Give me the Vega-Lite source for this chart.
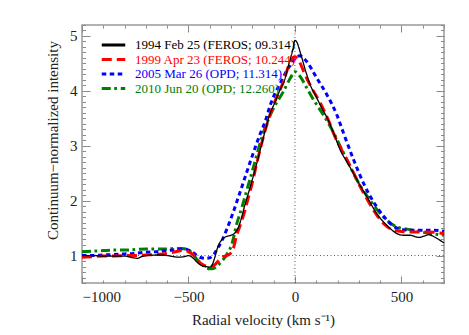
{
  "$schema": "https://vega.github.io/schema/vega-lite/v6.json",
  "width": 362,
  "height": 258,
  "autosize": {"type": "none"},
  "padding": {"left": 82, "top": 25, "right": 25, "bottom": 52},
  "background": "white",
  "config": {
    "view": {"stroke": "#999999", "strokeWidth": 1.5},
    "font": "'Liberation Serif', 'Times New Roman', serif",
    "axis": {"domain": false, "grid": false, "tickColor": "#8a8a8a", "tickWidth": 1, "labelFont": "'Liberation Serif', 'Times New Roman', serif", "labelFontSize": 15, "labelColor": "#222222", "labelOverlap": false, "labelBound": false, "titleFont": "'Liberation Serif', 'Times New Roman', serif", "titleFontSize": 15, "titleFontWeight": "normal", "titleColor": "#222222"},
    "legend": {"labelFont": "'Liberation Serif', 'Times New Roman', serif", "labelFontSize": 13, "labelLimit": 400, "symbolType": "M-2.35,0H2.35", "symbolStrokeWidth": 3, "symbolSize": 100, "rowPadding": 0.5, "labelOffset": 15, "padding": 0}
  },
  "datasets": {
    "spectra": [
      {"s": "2010 Jun 20 (OPD; 12.260)", "v": -1000, "i": 1.07},
      {"s": "2010 Jun 20 (OPD; 12.260)", "v": -950, "i": 1.08},
      {"s": "2010 Jun 20 (OPD; 12.260)", "v": -900, "i": 1.09},
      {"s": "2010 Jun 20 (OPD; 12.260)", "v": -850, "i": 1.10},
      {"s": "2010 Jun 20 (OPD; 12.260)", "v": -800, "i": 1.10},
      {"s": "2010 Jun 20 (OPD; 12.260)", "v": -750, "i": 1.11},
      {"s": "2010 Jun 20 (OPD; 12.260)", "v": -700, "i": 1.12},
      {"s": "2010 Jun 20 (OPD; 12.260)", "v": -650, "i": 1.12},
      {"s": "2010 Jun 20 (OPD; 12.260)", "v": -600, "i": 1.12},
      {"s": "2010 Jun 20 (OPD; 12.260)", "v": -560, "i": 1.13},
      {"s": "2010 Jun 20 (OPD; 12.260)", "v": -530, "i": 1.13},
      {"s": "2010 Jun 20 (OPD; 12.260)", "v": -500, "i": 1.10},
      {"s": "2010 Jun 20 (OPD; 12.260)", "v": -480, "i": 1.03},
      {"s": "2010 Jun 20 (OPD; 12.260)", "v": -460, "i": 0.93},
      {"s": "2010 Jun 20 (OPD; 12.260)", "v": -440, "i": 0.85},
      {"s": "2010 Jun 20 (OPD; 12.260)", "v": -420, "i": 0.79},
      {"s": "2010 Jun 20 (OPD; 12.260)", "v": -400, "i": 0.76},
      {"s": "2010 Jun 20 (OPD; 12.260)", "v": -380, "i": 0.77},
      {"s": "2010 Jun 20 (OPD; 12.260)", "v": -350, "i": 0.87},
      {"s": "2010 Jun 20 (OPD; 12.260)", "v": -320, "i": 1.02},
      {"s": "2010 Jun 20 (OPD; 12.260)", "v": -296, "i": 1.21},
      {"s": "2010 Jun 20 (OPD; 12.260)", "v": -273, "i": 1.58},
      {"s": "2010 Jun 20 (OPD; 12.260)", "v": -249, "i": 1.88},
      {"s": "2010 Jun 20 (OPD; 12.260)", "v": -226, "i": 2.19},
      {"s": "2010 Jun 20 (OPD; 12.260)", "v": -195, "i": 2.61},
      {"s": "2010 Jun 20 (OPD; 12.260)", "v": -155, "i": 3.16},
      {"s": "2010 Jun 20 (OPD; 12.260)", "v": -101, "i": 3.68},
      {"s": "2010 Jun 20 (OPD; 12.260)", "v": -54, "i": 3.99},
      {"s": "2010 Jun 20 (OPD; 12.260)", "v": -22, "i": 4.23},
      {"s": "2010 Jun 20 (OPD; 12.260)", "v": 0, "i": 4.35},
      {"s": "2010 Jun 20 (OPD; 12.260)", "v": 25, "i": 4.26},
      {"s": "2010 Jun 20 (OPD; 12.260)", "v": 56, "i": 4.05},
      {"s": "2010 Jun 20 (OPD; 12.260)", "v": 87, "i": 3.84},
      {"s": "2010 Jun 20 (OPD; 12.260)", "v": 134, "i": 3.56},
      {"s": "2010 Jun 20 (OPD; 12.260)", "v": 166, "i": 3.35},
      {"s": "2010 Jun 20 (OPD; 12.260)", "v": 229, "i": 2.86},
      {"s": "2010 Jun 20 (OPD; 12.260)", "v": 292, "i": 2.37},
      {"s": "2010 Jun 20 (OPD; 12.260)", "v": 354, "i": 2.00},
      {"s": "2010 Jun 20 (OPD; 12.260)", "v": 417, "i": 1.70},
      {"s": "2010 Jun 20 (OPD; 12.260)", "v": 479, "i": 1.52},
      {"s": "2010 Jun 20 (OPD; 12.260)", "v": 542, "i": 1.47},
      {"s": "2010 Jun 20 (OPD; 12.260)", "v": 620, "i": 1.41},
      {"s": "2010 Jun 20 (OPD; 12.260)", "v": 700, "i": 1.37},

      {"s": "2005 Mar 26 (OPD; 11.314)", "v": -1000, "i": 1.00},
      {"s": "2005 Mar 26 (OPD; 11.314)", "v": -950, "i": 1.00},
      {"s": "2005 Mar 26 (OPD; 11.314)", "v": -900, "i": 1.01},
      {"s": "2005 Mar 26 (OPD; 11.314)", "v": -850, "i": 1.02},
      {"s": "2005 Mar 26 (OPD; 11.314)", "v": -800, "i": 1.03},
      {"s": "2005 Mar 26 (OPD; 11.314)", "v": -750, "i": 1.04},
      {"s": "2005 Mar 26 (OPD; 11.314)", "v": -700, "i": 1.06},
      {"s": "2005 Mar 26 (OPD; 11.314)", "v": -650, "i": 1.07},
      {"s": "2005 Mar 26 (OPD; 11.314)", "v": -600, "i": 1.09},
      {"s": "2005 Mar 26 (OPD; 11.314)", "v": -550, "i": 1.11},
      {"s": "2005 Mar 26 (OPD; 11.314)", "v": -520, "i": 1.12},
      {"s": "2005 Mar 26 (OPD; 11.314)", "v": -500, "i": 1.10},
      {"s": "2005 Mar 26 (OPD; 11.314)", "v": -480, "i": 1.06},
      {"s": "2005 Mar 26 (OPD; 11.314)", "v": -460, "i": 1.00},
      {"s": "2005 Mar 26 (OPD; 11.314)", "v": -440, "i": 0.96},
      {"s": "2005 Mar 26 (OPD; 11.314)", "v": -420, "i": 0.95},
      {"s": "2005 Mar 26 (OPD; 11.314)", "v": -400, "i": 0.96},
      {"s": "2005 Mar 26 (OPD; 11.314)", "v": -385, "i": 1.00},
      {"s": "2005 Mar 26 (OPD; 11.314)", "v": -365, "i": 1.12},
      {"s": "2005 Mar 26 (OPD; 11.314)", "v": -343, "i": 1.27},
      {"s": "2005 Mar 26 (OPD; 11.314)", "v": -320, "i": 1.48},
      {"s": "2005 Mar 26 (OPD; 11.314)", "v": -304, "i": 1.64},
      {"s": "2005 Mar 26 (OPD; 11.314)", "v": -265, "i": 2.07},
      {"s": "2005 Mar 26 (OPD; 11.314)", "v": -234, "i": 2.43},
      {"s": "2005 Mar 26 (OPD; 11.314)", "v": -200, "i": 2.82},
      {"s": "2005 Mar 26 (OPD; 11.314)", "v": -163, "i": 3.22},
      {"s": "2005 Mar 26 (OPD; 11.314)", "v": -140, "i": 3.44},
      {"s": "2005 Mar 26 (OPD; 11.314)", "v": -116, "i": 3.74},
      {"s": "2005 Mar 26 (OPD; 11.314)", "v": -69, "i": 4.14},
      {"s": "2005 Mar 26 (OPD; 11.314)", "v": -22, "i": 4.47},
      {"s": "2005 Mar 26 (OPD; 11.314)", "v": 0, "i": 4.58},
      {"s": "2005 Mar 26 (OPD; 11.314)", "v": 22, "i": 4.64},
      {"s": "2005 Mar 26 (OPD; 11.314)", "v": 40, "i": 4.60},
      {"s": "2005 Mar 26 (OPD; 11.314)", "v": 56, "i": 4.53},
      {"s": "2005 Mar 26 (OPD; 11.314)", "v": 103, "i": 4.23},
      {"s": "2005 Mar 26 (OPD; 11.314)", "v": 150, "i": 3.93},
      {"s": "2005 Mar 26 (OPD; 11.314)", "v": 197, "i": 3.56},
      {"s": "2005 Mar 26 (OPD; 11.314)", "v": 229, "i": 3.22},
      {"s": "2005 Mar 26 (OPD; 11.314)", "v": 276, "i": 2.74},
      {"s": "2005 Mar 26 (OPD; 11.314)", "v": 323, "i": 2.31},
      {"s": "2005 Mar 26 (OPD; 11.314)", "v": 385, "i": 1.88},
      {"s": "2005 Mar 26 (OPD; 11.314)", "v": 420, "i": 1.70},
      {"s": "2005 Mar 26 (OPD; 11.314)", "v": 448, "i": 1.58},
      {"s": "2005 Mar 26 (OPD; 11.314)", "v": 480, "i": 1.50},
      {"s": "2005 Mar 26 (OPD; 11.314)", "v": 542, "i": 1.46},
      {"s": "2005 Mar 26 (OPD; 11.314)", "v": 600, "i": 1.46},
      {"s": "2005 Mar 26 (OPD; 11.314)", "v": 652, "i": 1.46},
      {"s": "2005 Mar 26 (OPD; 11.314)", "v": 700, "i": 1.44},

      {"s": "1999 Apr 23 (FEROS; 10.244)", "v": -1000, "i": 0.97},
      {"s": "1999 Apr 23 (FEROS; 10.244)", "v": -950, "i": 0.98},
      {"s": "1999 Apr 23 (FEROS; 10.244)", "v": -900, "i": 0.99},
      {"s": "1999 Apr 23 (FEROS; 10.244)", "v": -850, "i": 0.99},
      {"s": "1999 Apr 23 (FEROS; 10.244)", "v": -800, "i": 1.00},
      {"s": "1999 Apr 23 (FEROS; 10.244)", "v": -750, "i": 1.00},
      {"s": "1999 Apr 23 (FEROS; 10.244)", "v": -700, "i": 1.01},
      {"s": "1999 Apr 23 (FEROS; 10.244)", "v": -650, "i": 1.02},
      {"s": "1999 Apr 23 (FEROS; 10.244)", "v": -600, "i": 1.04},
      {"s": "1999 Apr 23 (FEROS; 10.244)", "v": -560, "i": 1.07},
      {"s": "1999 Apr 23 (FEROS; 10.244)", "v": -530, "i": 1.09},
      {"s": "1999 Apr 23 (FEROS; 10.244)", "v": -500, "i": 1.07},
      {"s": "1999 Apr 23 (FEROS; 10.244)", "v": -480, "i": 1.02},
      {"s": "1999 Apr 23 (FEROS; 10.244)", "v": -460, "i": 0.93},
      {"s": "1999 Apr 23 (FEROS; 10.244)", "v": -440, "i": 0.85},
      {"s": "1999 Apr 23 (FEROS; 10.244)", "v": -420, "i": 0.81},
      {"s": "1999 Apr 23 (FEROS; 10.244)", "v": -400, "i": 0.80},
      {"s": "1999 Apr 23 (FEROS; 10.244)", "v": -380, "i": 0.82},
      {"s": "1999 Apr 23 (FEROS; 10.244)", "v": -360, "i": 0.90},
      {"s": "1999 Apr 23 (FEROS; 10.244)", "v": -340, "i": 0.97},
      {"s": "1999 Apr 23 (FEROS; 10.244)", "v": -320, "i": 1.00},
      {"s": "1999 Apr 23 (FEROS; 10.244)", "v": -300, "i": 1.05},
      {"s": "1999 Apr 23 (FEROS; 10.244)", "v": -290, "i": 1.12},
      {"s": "1999 Apr 23 (FEROS; 10.244)", "v": -275, "i": 1.35},
      {"s": "1999 Apr 23 (FEROS; 10.244)", "v": -260, "i": 1.52},
      {"s": "1999 Apr 23 (FEROS; 10.244)", "v": -235, "i": 1.82},
      {"s": "1999 Apr 23 (FEROS; 10.244)", "v": -218, "i": 2.07},
      {"s": "1999 Apr 23 (FEROS; 10.244)", "v": -200, "i": 2.33},
      {"s": "1999 Apr 23 (FEROS; 10.244)", "v": -180, "i": 2.67},
      {"s": "1999 Apr 23 (FEROS; 10.244)", "v": -140, "i": 3.28},
      {"s": "1999 Apr 23 (FEROS; 10.244)", "v": -101, "i": 3.74},
      {"s": "1999 Apr 23 (FEROS; 10.244)", "v": -54, "i": 4.17},
      {"s": "1999 Apr 23 (FEROS; 10.244)", "v": -22, "i": 4.53},
      {"s": "1999 Apr 23 (FEROS; 10.244)", "v": 0, "i": 4.62},
      {"s": "1999 Apr 23 (FEROS; 10.244)", "v": 10, "i": 4.60},
      {"s": "1999 Apr 23 (FEROS; 10.244)", "v": 25, "i": 4.50},
      {"s": "1999 Apr 23 (FEROS; 10.244)", "v": 48, "i": 4.29},
      {"s": "1999 Apr 23 (FEROS; 10.244)", "v": 79, "i": 4.05},
      {"s": "1999 Apr 23 (FEROS; 10.244)", "v": 119, "i": 3.78},
      {"s": "1999 Apr 23 (FEROS; 10.244)", "v": 166, "i": 3.38},
      {"s": "1999 Apr 23 (FEROS; 10.244)", "v": 182, "i": 3.22},
      {"s": "1999 Apr 23 (FEROS; 10.244)", "v": 213, "i": 2.97},
      {"s": "1999 Apr 23 (FEROS; 10.244)", "v": 245, "i": 2.74},
      {"s": "1999 Apr 23 (FEROS; 10.244)", "v": 276, "i": 2.50},
      {"s": "1999 Apr 23 (FEROS; 10.244)", "v": 307, "i": 2.25},
      {"s": "1999 Apr 23 (FEROS; 10.244)", "v": 340, "i": 2.02},
      {"s": "1999 Apr 23 (FEROS; 10.244)", "v": 370, "i": 1.82},
      {"s": "1999 Apr 23 (FEROS; 10.244)", "v": 417, "i": 1.58},
      {"s": "1999 Apr 23 (FEROS; 10.244)", "v": 464, "i": 1.46},
      {"s": "1999 Apr 23 (FEROS; 10.244)", "v": 500, "i": 1.44},
      {"s": "1999 Apr 23 (FEROS; 10.244)", "v": 542, "i": 1.43},
      {"s": "1999 Apr 23 (FEROS; 10.244)", "v": 620, "i": 1.43},
      {"s": "1999 Apr 23 (FEROS; 10.244)", "v": 700, "i": 1.40},

      {"s": "1994 Feb 25 (FEROS; 09.314)", "v": -1000, "i": 1.00},
      {"s": "1994 Feb 25 (FEROS; 09.314)", "v": -950, "i": 1.00},
      {"s": "1994 Feb 25 (FEROS; 09.314)", "v": -900, "i": 0.99},
      {"s": "1994 Feb 25 (FEROS; 09.314)", "v": -850, "i": 0.99},
      {"s": "1994 Feb 25 (FEROS; 09.314)", "v": -800, "i": 0.99},
      {"s": "1994 Feb 25 (FEROS; 09.314)", "v": -760, "i": 0.96},
      {"s": "1994 Feb 25 (FEROS; 09.314)", "v": -740, "i": 0.95},
      {"s": "1994 Feb 25 (FEROS; 09.314)", "v": -720, "i": 0.98},
      {"s": "1994 Feb 25 (FEROS; 09.314)", "v": -700, "i": 1.00},
      {"s": "1994 Feb 25 (FEROS; 09.314)", "v": -650, "i": 1.01},
      {"s": "1994 Feb 25 (FEROS; 09.314)", "v": -600, "i": 1.00},
      {"s": "1994 Feb 25 (FEROS; 09.314)", "v": -570, "i": 0.98},
      {"s": "1994 Feb 25 (FEROS; 09.314)", "v": -550, "i": 0.97},
      {"s": "1994 Feb 25 (FEROS; 09.314)", "v": -520, "i": 0.98},
      {"s": "1994 Feb 25 (FEROS; 09.314)", "v": -500, "i": 1.00},
      {"s": "1994 Feb 25 (FEROS; 09.314)", "v": -480, "i": 0.96},
      {"s": "1994 Feb 25 (FEROS; 09.314)", "v": -460, "i": 0.88},
      {"s": "1994 Feb 25 (FEROS; 09.314)", "v": -440, "i": 0.82},
      {"s": "1994 Feb 25 (FEROS; 09.314)", "v": -420, "i": 0.80},
      {"s": "1994 Feb 25 (FEROS; 09.314)", "v": -400, "i": 0.79},
      {"s": "1994 Feb 25 (FEROS; 09.314)", "v": -390, "i": 0.82},
      {"s": "1994 Feb 25 (FEROS; 09.314)", "v": -380, "i": 0.92},
      {"s": "1994 Feb 25 (FEROS; 09.314)", "v": -360, "i": 1.18},
      {"s": "1994 Feb 25 (FEROS; 09.314)", "v": -340, "i": 1.30},
      {"s": "1994 Feb 25 (FEROS; 09.314)", "v": -320, "i": 1.35},
      {"s": "1994 Feb 25 (FEROS; 09.314)", "v": -300, "i": 1.37},
      {"s": "1994 Feb 25 (FEROS; 09.314)", "v": -280, "i": 1.42},
      {"s": "1994 Feb 25 (FEROS; 09.314)", "v": -265, "i": 1.52},
      {"s": "1994 Feb 25 (FEROS; 09.314)", "v": -250, "i": 1.70},
      {"s": "1994 Feb 25 (FEROS; 09.314)", "v": -240, "i": 1.85},
      {"s": "1994 Feb 25 (FEROS; 09.314)", "v": -210, "i": 2.25},
      {"s": "1994 Feb 25 (FEROS; 09.314)", "v": -180, "i": 2.67},
      {"s": "1994 Feb 25 (FEROS; 09.314)", "v": -140, "i": 3.27},
      {"s": "1994 Feb 25 (FEROS; 09.314)", "v": -120, "i": 3.55},
      {"s": "1994 Feb 25 (FEROS; 09.314)", "v": -93, "i": 3.80},
      {"s": "1994 Feb 25 (FEROS; 09.314)", "v": -70, "i": 4.02},
      {"s": "1994 Feb 25 (FEROS; 09.314)", "v": -50, "i": 4.18},
      {"s": "1994 Feb 25 (FEROS; 09.314)", "v": -30, "i": 4.47},
      {"s": "1994 Feb 25 (FEROS; 09.314)", "v": -10, "i": 4.75},
      {"s": "1994 Feb 25 (FEROS; 09.314)", "v": 0, "i": 4.92},
      {"s": "1994 Feb 25 (FEROS; 09.314)", "v": 10, "i": 4.88},
      {"s": "1994 Feb 25 (FEROS; 09.314)", "v": 25, "i": 4.70},
      {"s": "1994 Feb 25 (FEROS; 09.314)", "v": 56, "i": 4.29},
      {"s": "1994 Feb 25 (FEROS; 09.314)", "v": 75, "i": 4.08},
      {"s": "1994 Feb 25 (FEROS; 09.314)", "v": 95, "i": 3.93},
      {"s": "1994 Feb 25 (FEROS; 09.314)", "v": 127, "i": 3.68},
      {"s": "1994 Feb 25 (FEROS; 09.314)", "v": 150, "i": 3.52},
      {"s": "1994 Feb 25 (FEROS; 09.314)", "v": 180, "i": 3.25},
      {"s": "1994 Feb 25 (FEROS; 09.314)", "v": 213, "i": 2.92},
      {"s": "1994 Feb 25 (FEROS; 09.314)", "v": 245, "i": 2.70},
      {"s": "1994 Feb 25 (FEROS; 09.314)", "v": 276, "i": 2.49},
      {"s": "1994 Feb 25 (FEROS; 09.314)", "v": 310, "i": 2.25},
      {"s": "1994 Feb 25 (FEROS; 09.314)", "v": 338, "i": 2.07},
      {"s": "1994 Feb 25 (FEROS; 09.314)", "v": 385, "i": 1.76},
      {"s": "1994 Feb 25 (FEROS; 09.314)", "v": 432, "i": 1.55},
      {"s": "1994 Feb 25 (FEROS; 09.314)", "v": 479, "i": 1.40},
      {"s": "1994 Feb 25 (FEROS; 09.314)", "v": 510, "i": 1.37},
      {"s": "1994 Feb 25 (FEROS; 09.314)", "v": 542, "i": 1.37},
      {"s": "1994 Feb 25 (FEROS; 09.314)", "v": 581, "i": 1.33},
      {"s": "1994 Feb 25 (FEROS; 09.314)", "v": 610, "i": 1.36},
      {"s": "1994 Feb 25 (FEROS; 09.314)", "v": 628, "i": 1.38},
      {"s": "1994 Feb 25 (FEROS; 09.314)", "v": 650, "i": 1.35},
      {"s": "1994 Feb 25 (FEROS; 09.314)", "v": 668, "i": 1.31},
      {"s": "1994 Feb 25 (FEROS; 09.314)", "v": 700, "i": 1.23}
    ],
    "refs": [
      {"x": -1000, "x2": 700, "y": 1, "y2": 1},
      {"x": 0, "x2": 0, "y": 0.5, "y2": 5.2}
    ]
  },
  "resolve": {"axis": {"x": "independent", "y": "independent"}},
  "layer": [
    {
      "data": {"name": "refs"},
      "mark": {"type": "rule", "strokeDash": [1, 2.5], "strokeWidth": 1, "color": "#555555"},
      "encoding": {
        "x": {"field": "x", "type": "quantitative", "scale": {"domain": [-1000, 700], "nice": false, "zero": false},
          "axis": {"orient": "top", "title": null, "labels": false,
            "values": [-1000,-900,-800,-700,-600,-500,-400,-300,-200,-100,0,100,200,300,400,500,600,700],
            "tickSize": {"condition": {"test": "datum.value % 500 === 0", "value": -7}, "value": -3}}},
        "x2": {"field": "x2"},
        "y": {"field": "y", "type": "quantitative", "scale": {"domain": [0.5, 5.2], "nice": false, "zero": false},
          "axis": {"orient": "right", "title": null, "labels": false,
            "values": [0.5,0.6,0.7,0.8,0.9,1,1.1,1.2,1.3,1.4,1.5,1.6,1.7,1.8,1.9,2,2.1,2.2,2.3,2.4,2.5,2.6,2.7,2.8,2.9,3,3.1,3.2,3.3,3.4,3.5,3.6,3.7,3.8,3.9,4,4.1,4.2,4.3,4.4,4.5,4.6,4.7,4.8,4.9,5,5.1,5.2],
            "tickSize": {"condition": {"test": "datum.value % 1 === 0", "value": -8}, "value": -3.5}}},
        "y2": {"field": "y2"}
      }
    },
    {
      "data": {"name": "spectra"},
      "mark": {"type": "line", "interpolate": "monotone"},
      "encoding": {
        "x": {"field": "v", "type": "quantitative", "scale": {"domain": [-1000, 700], "nice": false, "zero": false},
          "axis": {"orient": "bottom", "title": "Radial velocity (km s⁻¹)", "titlePadding": 4,
            "values": [-1000,-900,-800,-700,-600,-500,-400,-300,-200,-100,0,100,200,300,400,500,600,700],
            "labelExpr": "datum.value % 500 === 0 ? replace(format(datum.value, 'd'), '-', '−') : ''",
            "labelPadding": 13,
            "tickSize": {"condition": {"test": "datum.value % 500 === 0", "value": -7}, "value": -3}}},
        "y": {"field": "i", "type": "quantitative", "scale": {"domain": [0.5, 5.2], "nice": false, "zero": false},
          "axis": {"orient": "left", "title": "Continuum−normalized intensity", "titlePadding": 9, "titleY": 115,
            "values": [0.5,0.6,0.7,0.8,0.9,1,1.1,1.2,1.3,1.4,1.5,1.6,1.7,1.8,1.9,2,2.1,2.2,2.3,2.4,2.5,2.6,2.7,2.8,2.9,3,3.1,3.2,3.3,3.4,3.5,3.6,3.7,3.8,3.9,4,4.1,4.2,4.3,4.4,4.5,4.6,4.7,4.8,4.9,5,5.1,5.2],
            "labelExpr": "datum.value % 1 === 0 ? format(datum.value, 'd') : ''",
            "labelPadding": 13,
            "tickSize": {"condition": {"test": "datum.value % 1 === 0", "value": -8}, "value": -3.5}}},
        "color": {"field": "s", "type": "nominal",
          "scale": {"domain": ["1994 Feb 25 (FEROS; 09.314)", "1999 Apr 23 (FEROS; 10.244)", "2005 Mar 26 (OPD; 11.314)", "2010 Jun 20 (OPD; 12.260)"],
                    "range": ["#000000", "#ff0000", "#0000ff", "#008000"]},
          "legend": {"title": null, "orient": "none", "legendX": 25, "legendY": 13.5,
            "encode": {"labels": {"update": {"fill": {"scale": "color", "field": "value"}}}}}},
        "strokeDash": {"field": "s", "type": "nominal",
          "scale": {"domain": ["1994 Feb 25 (FEROS; 09.314)", "1999 Apr 23 (FEROS; 10.244)", "2005 Mar 26 (OPD; 11.314)", "2010 Jun 20 (OPD; 12.260)"],
                    "range": [[1, 0], [10, 5], [4.5, 3.5], [9, 3.5, 2.7, 3.8]]},
          "legend": {"title": null, "orient": "none", "legendX": 25, "legendY": 13.5}},
        "strokeWidth": {"condition": {"test": "datum.s === '1994 Feb 25 (FEROS; 09.314)'", "value": 1.3}, "value": 3}
      }
    }
  ]
}
